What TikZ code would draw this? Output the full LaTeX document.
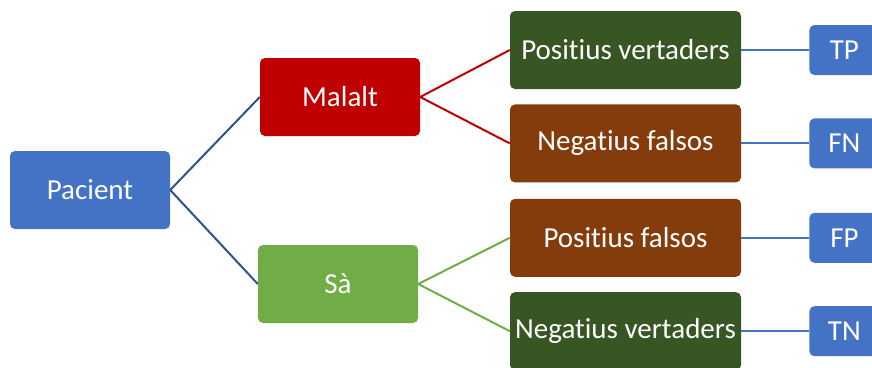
\documentclass[tikz,border=0pt]{standalone}
\usepackage{fontspec}
\setmainfont{Carlito}[Ligatures={NoCommon}]
\usetikzlibrary{positioning}

\definecolor{boxblue}{HTML}{4472C4}
\definecolor{linkblue}{HTML}{2F528F}
\definecolor{sickred}{HTML}{C00000}
\definecolor{healthygreen}{HTML}{70AD47}
\definecolor{truegreen}{HTML}{375623}
\definecolor{falsebrown}{HTML}{843C0C}

\begin{document}
\begin{tikzpicture}[
  x=1pt, y=-1pt,
  box/.style={rectangle, rounded corners=5pt, text=white,
              font=\fontsize{29}{33}\selectfont, inner sep=2pt,
              minimum height=78pt, text centered},
  cls/.style={box, minimum width=160pt},
  res/.style={box, minimum width=231pt},
  tag/.style={box, fill=boxblue, minimum width=70pt, minimum height=50pt},
  lnk/.style={line width=2pt}]
\useasboundingbox (0,0) rectangle (872,367);

% Root and classes
\node[cls, fill=boxblue]       (pac) at (90,190)  {Pacient};
\node[cls, fill=sickred]       (mal) at (340,97)  {Malalt};
\node[cls, fill=healthygreen]  (sa)  at (338,284) {Sà};

% Test results
\node[res, fill=truegreen]                    (pv) at (625.5,50) {Positius vertaders};
\node[res, fill=falsebrown, below=15pt of pv] (nf) {Negatius falsos};
\node[res, fill=falsebrown, below=16pt of nf] (pf) {Positius falsos};
\node[res, fill=truegreen,  below=15pt of pf] (nv) {Negatius vertaders};

% Outcome tags
\node[tag, right=68pt of pv] (tp) {TP};
\node[tag, right=68pt of nf] (fn) {FN};
\node[tag, right=68pt of pf] (fp) {FP};
\node[tag, right=68pt of nv] (tn) {TN};

% Branches
\draw[lnk, linkblue] (pac.east) -- (mal.west);
\draw[lnk, linkblue] (pac.east) -- (sa.west);
\draw[lnk, sickred] (mal.east) -- (pv.west);
\draw[lnk, sickred] (mal.east) -- (nf.west);
\draw[lnk, healthygreen] (sa.east) -- (pf.west);
\draw[lnk, healthygreen] (sa.east) -- (nv.west);

% Result to tag
\foreach \r/\t in {pv/tp, nf/fn, pf/fp, nv/tn}
  \draw[lnk, boxblue] (\r.east) -- (\t.west);
\end{tikzpicture}
\end{document}
